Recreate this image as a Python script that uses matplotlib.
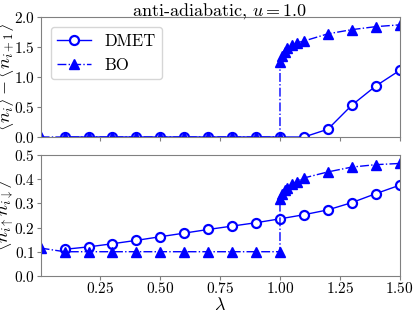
import matplotlib
matplotlib.use('Agg')
import matplotlib.pyplot as plt

plt.rcParams['mathtext.fontset'] = 'cm'
plt.rcParams['font.family'] = 'serif'
plt.rcParams['font.serif'] = ['cmr10']
plt.rcParams['axes.formatter.use_mathtext'] = True
plt.rcParams['font.size'] = 11

# DMET results
lam_dmet = [0.1, 0.2, 0.3, 0.4, 0.5, 0.6, 0.7, 0.8, 0.9, 1.0, 1.1, 1.2, 1.3, 1.4, 1.5]
dn_dmet = [0.0, 0.0, 0.0, 0.0, 0.0, 0.0, 0.0, 0.0, 0.0, 0.0, 0.0, 0.13, 0.53, 0.85, 1.11]
docc_dmet = [0.11, 0.12, 0.133, 0.147, 0.162, 0.177, 0.192, 0.206, 0.22, 0.236,
             0.253, 0.273, 0.303, 0.34, 0.375]

# Born-Oppenheimer results
lam_bo = [0.0, 0.1, 0.2, 0.3, 0.4, 0.5, 0.6, 0.7, 0.8, 0.9, 1.0,
          1.0, 1.01, 1.02, 1.03, 1.05, 1.07, 1.1, 1.2, 1.3, 1.4, 1.5]
dn_bo = [0.0, 0.0, 0.0, 0.0, 0.0, 0.0, 0.0, 0.0, 0.0, 0.0, 0.0,
         1.25, 1.35, 1.42, 1.48, 1.53, 1.57, 1.60, 1.72, 1.79, 1.84, 1.87]
docc_bo = [0.115, 0.1, 0.1, 0.1, 0.1, 0.1, 0.1, 0.1, 0.1, 0.1, 0.1,
           0.32, 0.34, 0.355, 0.365, 0.38, 0.39, 0.405, 0.43, 0.45, 0.46, 0.465]

xticks = [0.25, 0.5, 0.75, 1.0, 1.25, 1.5]

fig = plt.figure(figsize=(4.15, 3.1), dpi=100)
ax1 = fig.add_axes([0.098, 0.558, 0.865, 0.387])
ax2 = fig.add_axes([0.098, 0.11, 0.865, 0.39])

dmet_kw = dict(color='blue', ls='-', lw=1.0, marker='o', ms=6.5,
               mfc='white', mew=1.6, label='DMET')
bo_kw = dict(color='blue', ls='-.', lw=1.0, marker='^', ms=7, label='BO')

ax1.plot(lam_dmet, dn_dmet, **dmet_kw)
ax1.plot(lam_bo, dn_bo, **bo_kw)
ax1.set_ylim(0, 2.0)
ax1.set_yticks([0.0, 0.5, 1.0, 1.5, 2.0])
ax1.set_ylabel(r'$\langle n_i\rangle - \langle n_{i+1}\rangle$', fontsize=13)
ax1.set_title(r'anti-adiabatic, $u = 1.0$', fontsize=13, y=1.012, pad=0)
ax1.legend(loc='upper left', fontsize=12, borderaxespad=0.6)
ax1.tick_params(labelbottom=False)

ax2.plot(lam_dmet, docc_dmet, **dmet_kw)
ax2.plot(lam_bo, docc_bo, **bo_kw)
ax2.set_ylim(0, 0.5)
ax2.set_yticks([0.0, 0.1, 0.2, 0.3, 0.4, 0.5])
ax2.set_ylabel(r'$\langle n_{i\uparrow} n_{i\downarrow}\rangle$', fontsize=13)
ax2.set_xlabel(r'$\lambda$', fontsize=13, labelpad=0)

for ax in (ax1, ax2):
    ax.set_xlim(0, 1.5)
    ax.set_xticks(xticks)
    ax.yaxis.set_label_coords(-0.07, 0.5)
    for s in ax.spines.values():
        s.set_color('gray')
    ax.tick_params(colors='gray', labelcolor='black', length=3, pad=1)

fig.savefig('out.png', dpi=100)
